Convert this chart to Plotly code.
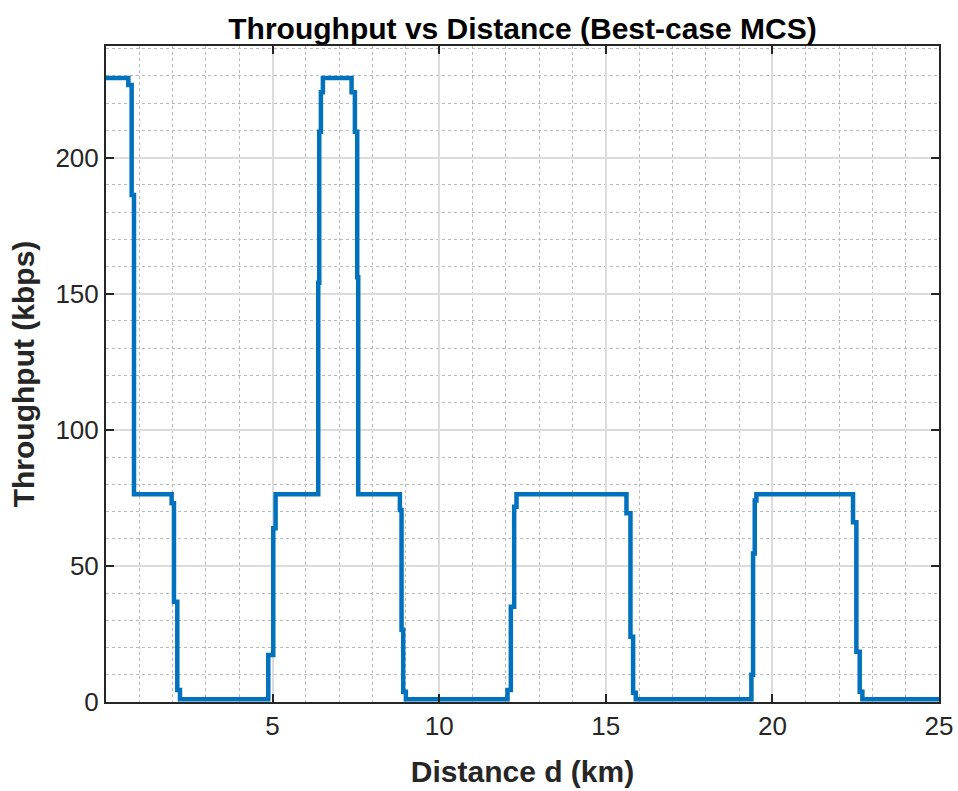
import plotly.graph_objects as go

# Best-case MCS throughput as a function of link distance (step profile)
dist_km = [0.0, 0.67, 0.77, 0.84, 1.97, 2.04, 2.14, 2.22, 4.87, 5.02,
           5.09, 6.37, 6.40, 6.45, 6.51, 7.37, 7.47, 7.54, 7.57, 8.82,
           8.87, 8.92, 9.00, 12.05, 12.15, 12.25, 12.32, 15.62, 15.74, 15.82,
           15.90, 19.37, 19.42, 19.47, 19.52, 22.42, 22.52, 22.62, 22.70, 25.0]
throughput_kbps = [229.2, 226.7, 186.3, 76.3, 73.0, 36.8, 4.4, 1.0, 17.3, 63.8,
                   76.3, 154.0, 209.5, 224.0, 229.2, 224.0, 209.5, 156.0, 76.3, 70.5,
                   26.5, 3.8, 1.0, 4.4, 35.0, 71.7, 76.3, 69.3, 24.0, 3.4,
                   1.0, 10.0, 54.6, 74.0, 76.3, 66.0, 18.5, 3.8, 1.0, 1.0]

x_ticks = [5, 10, 15, 20, 25]
y_ticks = [0, 50, 100, 150, 200]

FONT = "Liberation Sans, Arial, Helvetica, sans-serif"
AXIS_COLOR = "#262626"

fig = go.Figure()
fig.add_trace(go.Scatter(
    x=dist_km, y=throughput_kbps, mode="lines",
    line=dict(color="#0072BD", width=4.5, shape="hv"),
    showlegend=False,
))

axis_common = dict(
    showline=True, linecolor=AXIS_COLOR, linewidth=2, mirror="ticks",
    ticks="inside", ticklen=8, tickwidth=2, tickcolor=AXIS_COLOR,
    showgrid=True, gridcolor="#dcdcdc", gridwidth=1.5,
    zeroline=False, automargin=False,
    tickfont=dict(family=FONT, size=26, color=AXIS_COLOR),
)

fig.update_xaxes(
    range=[0, 25], tickvals=x_ticks,
    minor=dict(dtick=1, showgrid=True, gridcolor="#b9b9b9",
               griddash="dot", gridwidth=1.2, ticks=""),
    title=dict(text="<b>Distance d (km)</b>", standoff=21,
               font=dict(family=FONT, size=30, color=AXIS_COLOR)),
    **axis_common,
)
fig.update_yaxes(
    range=[0, 241], tickvals=y_ticks,
    minor=dict(dtick=10, showgrid=True, gridcolor="#b9b9b9",
               griddash="dot", gridwidth=1.2, ticks=""),
    title=dict(text="<b>Throughput (kbps)</b>", standoff=12,
               font=dict(family=FONT, size=30, color=AXIS_COLOR)),
    **axis_common,
)

fig.update_layout(
    width=958, height=791,
    margin=dict(l=106, r=19, t=46, b=89),
    paper_bgcolor="white", plot_bgcolor="white",
    title=dict(text="<b>Throughput vs Distance (Best-case MCS)</b>",
               x=(106 + 939) / 2 / 958, xanchor="center",
               y=1 - 28 / 791, yanchor="middle",
               font=dict(family=FONT, size=30, color="black")),
)

fig.write_html("out.html")
